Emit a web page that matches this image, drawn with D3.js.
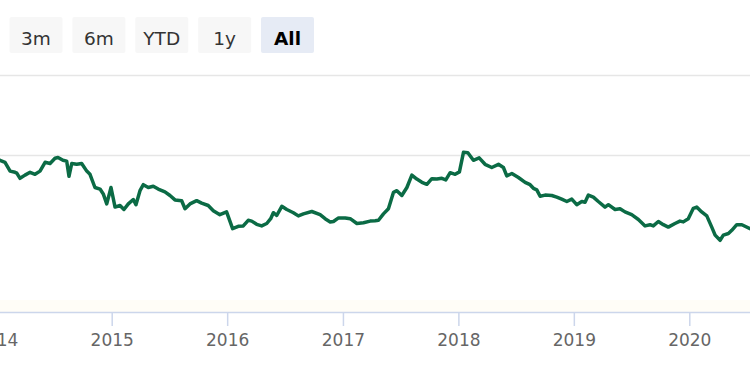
<!DOCTYPE html>
<html>
<head>
<meta charset="utf-8">
<script src="https://cdn.jsdelivr.net/npm/d3@7"></script>
<style>
  body { margin: 0; background: #fff; }
  svg { display: block; font-family: "DejaVu Sans", sans-serif; }
</style>
</head>
<body>
<div id="chart"></div>
<script>
// range selector buttons
const buttons = ["3m", "6m", "YTD", "1y", "All"];
const selectedButton = "All";

// axis ticks
const yearTicks = [2014, 2015, 2016, 2017, 2018, 2019, 2020];
const yTicks = [40, 60];

// series: time as decimal years
const times = [
  2013.98, 2014.033, 2014.076, 2014.120, 2014.163, 2014.178, 2014.206, 2014.249, 2014.293, 2014.336,
  2014.379, 2014.423, 2014.466, 2014.509, 2014.535, 2014.578, 2014.610, 2014.630, 2014.654, 2014.697,
  2014.740, 2014.784, 2014.812, 2014.855, 2014.899, 2014.927, 2014.957, 2014.994, 2015.029, 2015.072,
  2015.106, 2015.144, 2015.187, 2015.210, 2015.245, 2015.274, 2015.317, 2015.360, 2015.403, 2015.461,
  2015.505, 2015.548, 2015.606, 2015.635, 2015.678, 2015.736, 2015.779, 2015.836, 2015.880, 2015.937,
  2015.995, 2016.047, 2016.096, 2016.139, 2016.182, 2016.212, 2016.255, 2016.298, 2016.342, 2016.376,
  2016.399, 2016.428, 2016.472, 2016.515, 2016.572, 2016.615, 2016.659, 2016.731, 2016.803, 2016.846,
  2016.890, 2016.918, 2016.962, 2017.020, 2017.063, 2017.121, 2017.178, 2017.236, 2017.279, 2017.308,
  2017.351, 2017.394, 2017.438, 2017.467, 2017.510, 2017.554, 2017.597, 2017.640, 2017.684, 2017.727,
  2017.770, 2017.813, 2017.857, 2017.891, 2017.929, 2017.972, 2018.009, 2018.044, 2018.082, 2018.130,
  2018.180, 2018.231, 2018.289, 2018.347, 2018.390, 2018.419, 2018.463, 2018.520, 2018.578, 2018.621,
  2018.650, 2018.679, 2018.708, 2018.751, 2018.809, 2018.852, 2018.895, 2018.939, 2018.982, 2019.025,
  2019.069, 2019.097, 2019.126, 2019.169, 2019.212, 2019.270, 2019.299, 2019.357, 2019.400, 2019.443,
  2019.501, 2019.559, 2019.617, 2019.660, 2019.688, 2019.732, 2019.775, 2019.818, 2019.876, 2019.919,
  2019.948, 2019.991, 2020.035, 2020.064, 2020.107, 2020.151, 2020.194, 2020.223, 2020.266, 2020.294,
  2020.338, 2020.367, 2020.410, 2020.454, 2020.525, 2020.54
];
const values = [
  39.2, 38.8, 38.3, 36.1, 35.8, 35.6, 34.3, 35.1, 35.8, 35.3,
  36.1, 38.3, 38.0, 39.3, 39.5, 38.8, 38.6, 34.8, 38.0, 37.8,
  38.0, 36.1, 35.3, 32.0, 31.6, 30.4, 27.9, 32.0, 27.1, 27.5,
  26.5, 27.9, 29.0, 27.7, 31.2, 32.7, 32.0, 32.3, 31.6, 30.9,
  30.0, 28.9, 28.7, 26.7, 27.9, 28.7, 28.1, 27.5, 26.2, 25.2,
  25.9, 21.7, 22.3, 22.4, 23.8, 23.6, 22.8, 22.4, 23.0, 24.2,
  25.7, 25.0, 27.3, 26.5, 25.7, 24.9, 25.4, 26.0, 25.2, 24.2,
  23.4, 23.5, 24.4, 24.4, 24.2, 23.0, 23.2, 23.6, 23.7, 23.8,
  25.4, 26.7, 30.8, 31.2, 30.0, 32.0, 35.1, 34.1, 33.3, 32.8,
  34.2, 34.1, 34.3, 33.9, 35.7, 35.3, 35.9, 40.8, 40.7, 38.8,
  39.4, 37.8, 37.0, 37.8, 37.0, 34.9, 35.5, 34.5, 33.3, 32.7,
  31.8, 31.4, 29.8, 30.1, 30.0, 29.6, 29.1, 28.5, 29.1, 27.7,
  28.5, 28.3, 30.1, 29.6, 28.5, 27.1, 27.7, 26.5, 26.7, 25.9,
  25.2, 24.0, 22.4, 22.7, 22.4, 23.5, 22.7, 22.1, 23.0, 23.6,
  23.4, 24.2, 26.8, 27.1, 25.9, 24.9, 22.1, 20.1, 18.8, 20.1,
  20.5, 21.3, 22.7, 22.7, 21.7, 21.5
];

const width = 750, height = 375;
const plotBottom = 312;

function toDate(t) {
  const y = Math.floor(t);
  const a = Date.UTC(y, 0, 1), b = Date.UTC(y + 1, 0, 1);
  return new Date(a + (t - y) * (b - a));
}

const data = times.map((t, i) => ({ date: toDate(t), value: values[i] }));

const svg = d3.select("#chart").append("svg")
  .attr("width", width)
  .attr("height", height);

// x scale pinned to where the year ticks sit
const x = d3.scaleUtc()
  .domain([new Date(Date.UTC(2015, 0, 1)), new Date(Date.UTC(2020, 0, 1))])
  .range([111.7, 689.3]);

const y = d3.scaleLinear()
  .domain([40, 60])
  .range([155.5, 75.5]);

// faint band just above the axis
svg.append("rect")
  .attr("x", 0).attr("y", 300)
  .attr("width", width).attr("height", plotBottom - 300)
  .attr("fill", "#fffdf7");

// gridlines
svg.append("g")
  .selectAll("line")
  .data(yTicks)
  .enter().append("line")
  .attr("x1", 0).attr("x2", width)
  .attr("y1", d => y(d)).attr("y2", d => y(d))
  .attr("stroke", "#e6e6e6")
  .attr("stroke-width", 1.5);

// x axis
const xAxis = svg.append("g")
  .attr("transform", `translate(0,${plotBottom})`)
  .call(d3.axisBottom(x)
    .tickValues(yearTicks.map(yr => new Date(Date.UTC(yr, 0, 1))))
    .tickFormat(d3.utcFormat("%Y"))
    .tickSize(14)
    .tickPadding(8)
    .tickSizeOuter(0));
xAxis.select(".domain").attr("stroke", "#ccd6eb").attr("stroke-width", 1.5)
  .attr("d", `M0,0.5H${width}`);
xAxis.selectAll(".tick line").attr("stroke", "#ccd6eb").attr("stroke-width", 1.5);
xAxis.selectAll(".tick text")
  .attr("fill", "#666")
  .style("font-family", "DejaVu Sans, sans-serif")
  .style("font-size", "17px");

// clip for the series
svg.append("clipPath").attr("id", "plotclip")
  .append("rect").attr("x", 0).attr("y", 0).attr("width", width).attr("height", plotBottom);

const line = d3.line()
  .x(d => x(d.date))
  .y(d => y(d.value));

svg.append("path")
  .datum(data)
  .attr("clip-path", "url(#plotclip)")
  .attr("fill", "none")
  .attr("stroke", "#0b6b45")
  .attr("stroke-width", 3.5)
  .attr("stroke-linejoin", "round")
  .attr("stroke-linecap", "round")
  .attr("d", line);

// range selector buttons
const bx = d3.scalePoint().domain(buttons).range([9.5, 261]);
const btn = svg.append("g").selectAll("g")
  .data(buttons)
  .enter().append("g")
  .attr("transform", d => `translate(${bx(d)},17)`);

btn.append("rect")
  .attr("width", 53).attr("height", 36).attr("rx", 2)
  .attr("fill", d => d === selectedButton ? "#e6ebf5" : "#f7f7f7");

btn.append("text")
  .attr("x", 26.5).attr("y", 28)
  .attr("text-anchor", "middle")
  .attr("fill", d => d === selectedButton ? "#000" : "#333")
  .style("font-size", "18.5px")
  .style("font-weight", d => d === selectedButton ? "bold" : "normal")
  .text(d => d);
</script>
</body>
</html>
